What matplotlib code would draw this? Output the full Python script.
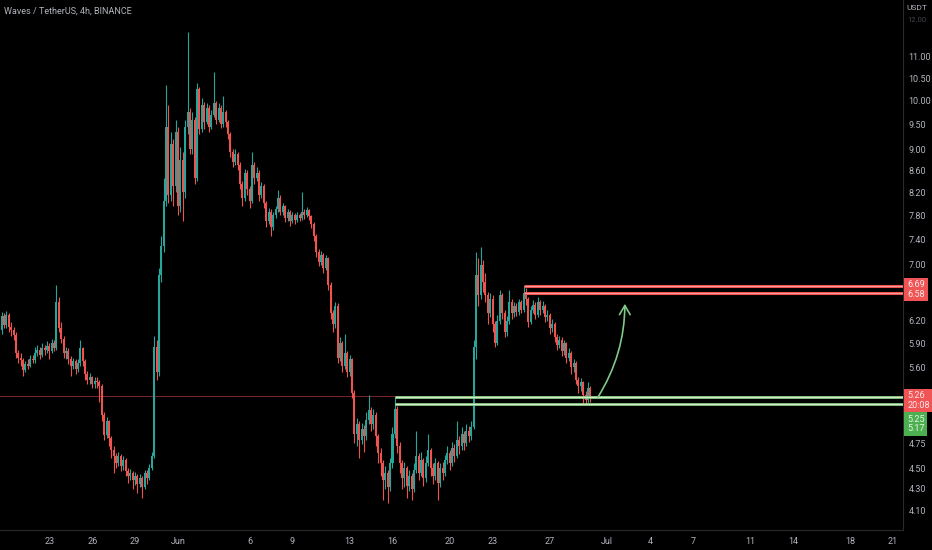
import numpy as np
import pandas as pd
import matplotlib
matplotlib.use('Agg')
import matplotlib.pyplot as plt
import matplotlib.transforms as mtransforms
from matplotlib.patches import FancyArrowPatch

plt.rcParams['font.family'] = ['Roboto', 'DejaVu Sans']

# ======================================
# DATA  (Waves / TetherUS, 4h candles)
# ======================================
first_open = 6.00

closes = [
    6.08, 6.26, 6.14, 6.27, 6.12, 6.08, 6.01, 5.78, 5.72, 5.69, 5.57, 5.64,
    5.62, 5.71, 5.69, 5.78, 5.82, 5.76, 5.84, 5.82, 5.87, 5.80, 5.90, 5.84,
    6.45, 6.10, 5.96, 5.78, 5.80, 5.70, 5.62, 5.68, 5.58, 5.66, 5.84, 5.68,
    5.52, 5.45, 5.48, 5.40, 5.44, 5.42, 5.38, 5.05, 4.84, 4.98, 4.80, 4.68,
    4.62, 4.55, 4.62, 4.52, 4.58, 4.47, 4.42, 4.45, 4.38, 4.42, 4.35, 4.40,
    4.32, 4.45, 4.40, 4.50, 4.62, 5.85, 5.55, 6.85, 7.30, 8.05, 9.45, 8.15,
    9.10, 8.30, 9.35, 7.95, 8.80, 8.20, 9.45, 9.75, 9.00, 9.60, 8.45, 10.25,
    9.40, 9.90, 9.55, 9.85, 9.45, 9.70, 9.95, 9.60, 9.85, 9.50, 9.75, 9.55,
    9.30, 8.95, 8.75, 8.90, 8.70, 8.35, 8.10, 8.55, 8.25, 8.05, 8.70, 8.45,
    8.55, 8.15, 8.30, 8.00, 7.70, 7.85, 7.60, 7.80, 7.90, 8.10, 7.85, 7.95,
    7.75, 7.85, 7.70, 7.80, 7.72, 7.80, 7.75, 7.85, 7.80, 7.88, 7.78, 7.65,
    7.45, 7.20, 7.05, 7.15, 6.95, 7.10, 6.70, 6.30, 6.15, 6.40, 5.72, 5.90,
    5.62, 5.78, 5.55, 5.70, 5.30, 4.85, 4.95, 4.78, 4.90, 4.82, 5.00, 5.10,
    4.95, 5.05, 4.82, 4.65, 4.55, 4.38, 4.45, 4.32, 4.55, 4.85, 5.12, 4.72,
    4.55, 4.40, 4.50, 4.33, 4.42, 4.30, 4.48, 4.62, 4.45, 4.58, 4.40, 4.55,
    4.68, 4.50, 4.42, 4.55, 4.36, 4.50, 4.45, 4.58, 4.65, 4.55, 4.70, 4.62,
    4.78, 4.72, 4.85, 4.75, 4.88, 4.82, 4.92, 5.85, 6.85, 6.55, 7.00, 6.75,
    6.55, 6.30, 6.50, 6.15, 5.90, 6.20, 6.55, 6.30, 6.05, 6.20, 6.45, 6.30,
    6.40, 6.32, 6.45, 6.35, 6.58, 6.50, 6.18, 6.35, 6.42, 6.28, 6.45, 6.35,
    6.40, 6.25, 6.28, 6.10, 6.15, 5.98, 5.88, 5.95, 5.80, 5.90, 5.72, 5.78,
    5.60, 5.65, 5.45, 5.38, 5.42, 5.28, 5.22, 5.35, 5.26,
]

highs = [
    6.15, 6.32, 6.30, 6.33, 6.30, 6.18, 6.12, 6.05, 5.82, 5.78, 5.72, 5.68,
    5.70, 5.75, 5.76, 5.85, 5.88, 5.85, 5.90, 5.88, 5.93, 5.90, 5.96, 5.94,
    6.70, 6.52, 6.18, 6.00, 5.86, 5.84, 5.74, 5.72, 5.71, 5.70, 5.95, 5.86,
    5.70, 5.56, 5.53, 5.50, 5.49, 5.48, 5.45, 5.40, 5.08, 5.03, 5.00, 4.83,
    4.72, 4.65, 4.66, 4.64, 4.62, 4.60, 4.50, 4.49, 4.47, 4.46, 4.44, 4.44,
    4.42, 4.48, 4.48, 4.54, 4.66, 6.00, 5.95, 6.95, 7.45, 8.45, 10.35, 9.90,
    9.35, 9.20, 9.60, 9.45, 9.05, 8.95, 9.60, 11.62, 9.85, 9.75, 9.65, 10.40,
    10.30, 10.05, 9.98, 9.95, 9.90, 9.80, 10.65, 10.00, 9.95, 9.90, 10.10, 9.80,
    9.60, 9.35, 9.00, 9.00, 8.95, 8.75, 8.40, 8.62, 8.60, 8.30, 8.95, 8.75,
    8.65, 8.60, 8.38, 8.35, 8.05, 7.92, 7.90, 7.85, 7.96, 8.24, 8.15, 8.00,
    7.98, 7.90, 7.88, 7.85, 7.84, 7.86, 7.84, 8.20, 7.90, 7.93, 7.91, 7.80,
    7.68, 7.48, 7.24, 7.22, 7.18, 7.15, 7.12, 6.74, 6.35, 6.46, 6.44, 5.98,
    5.93, 6.02, 5.80, 5.76, 5.72, 5.33, 5.02, 4.98, 4.96, 4.94, 5.08, 5.27,
    5.14, 5.12, 5.08, 4.85, 4.70, 4.58, 4.52, 4.48, 4.60, 4.92, 5.25, 5.15,
    4.76, 4.58, 4.56, 4.52, 4.48, 4.45, 4.55, 4.88, 4.65, 4.66, 4.60, 4.62,
    4.85, 4.70, 4.55, 4.60, 4.57, 4.55, 4.56, 4.63, 4.72, 4.68, 4.76, 4.74,
    4.98, 4.82, 4.92, 4.88, 4.95, 4.93, 4.98, 5.95, 7.20, 7.10, 7.28, 7.08,
    6.88, 6.60, 6.58, 6.55, 6.20, 6.28, 6.62, 6.58, 6.34, 6.26, 6.62, 6.50,
    6.46, 6.44, 6.50, 6.48, 6.69, 6.66, 6.52, 6.40, 6.48, 6.45, 6.52, 6.48,
    6.47, 6.43, 6.35, 6.30, 6.22, 6.18, 6.02, 6.00, 5.98, 5.95, 5.92, 5.84,
    5.80, 5.70, 5.68, 5.48, 5.47, 5.44, 5.32, 5.42, 5.38,
]

lows = [
    5.95, 6.02, 6.10, 6.10, 6.05, 6.00, 5.95, 5.72, 5.66, 5.62, 5.50, 5.54,
    5.58, 5.60, 5.65, 5.66, 5.74, 5.70, 5.73, 5.75, 5.78, 5.70, 5.78, 5.80,
    5.82, 6.05, 5.90, 5.72, 5.70, 5.64, 5.50, 5.58, 5.52, 5.55, 5.62, 5.62,
    5.45, 5.40, 5.40, 5.35, 5.36, 5.35, 5.20, 4.98, 4.78, 4.80, 4.72, 4.60,
    4.45, 4.50, 4.52, 4.47, 4.48, 4.42, 4.36, 4.38, 4.30, 4.34, 4.26, 4.32,
    4.22, 4.30, 4.35, 4.38, 4.48, 4.60, 5.45, 5.50, 6.75, 7.20, 7.95, 8.00,
    8.05, 7.95, 8.20, 7.80, 7.85, 7.70, 8.10, 9.30, 8.90, 8.90, 8.35, 8.40,
    9.30, 9.35, 9.40, 9.50, 9.35, 9.40, 9.65, 9.50, 9.55, 9.42, 9.45, 9.45,
    9.20, 8.85, 8.65, 8.70, 8.60, 8.25, 7.95, 8.05, 8.15, 7.92, 8.00, 8.35,
    8.40, 8.05, 8.10, 7.92, 7.60, 7.65, 7.45, 7.55, 7.75, 7.85, 7.80, 7.80,
    7.68, 7.70, 7.62, 7.66, 7.65, 7.68, 7.70, 7.72, 7.74, 7.76, 7.72, 7.58,
    7.38, 7.12, 6.98, 7.00, 6.88, 6.92, 6.62, 6.22, 6.05, 6.10, 5.66, 5.68,
    5.55, 5.58, 5.48, 5.50, 5.24, 4.75, 4.72, 4.60, 4.74, 4.66, 4.78, 4.95,
    4.88, 4.90, 4.72, 4.55, 4.42, 4.20, 4.30, 4.17, 4.28, 4.50, 4.80, 4.65,
    4.45, 4.30, 4.32, 4.22, 4.28, 4.20, 4.27, 4.45, 4.38, 4.42, 4.33, 4.37,
    4.52, 4.42, 4.35, 4.38, 4.20, 4.32, 4.38, 4.42, 4.54, 4.48, 4.52, 4.56,
    4.60, 4.64, 4.68, 4.68, 4.72, 4.76, 4.78, 4.90, 5.70, 6.40, 6.50, 6.60,
    6.45, 6.15, 6.25, 6.05, 5.85, 5.88, 6.15, 6.22, 5.98, 6.00, 6.15, 6.22,
    6.25, 6.26, 6.28, 6.30, 6.32, 6.42, 6.12, 6.15, 6.30, 6.22, 6.25, 6.28,
    6.30, 6.18, 6.20, 6.02, 6.05, 5.92, 5.82, 5.84, 5.74, 5.76, 5.66, 5.68,
    5.52, 5.55, 5.40, 5.30, 5.32, 5.17, 5.17, 5.18, 5.20,
]

first_candle = '2022-05-19 12:00'
ref_day = pd.Timestamp('2022-06-01')

# support / resistance drawn on the chart
resistance = [6.69, 6.58]
support = [5.25, 5.17]
res_from_candle = 220
sup_from_candle = 166
last_price = 5.26
countdown = '20:08'

date_ticks = ['2022-05-23', '2022-05-26', '2022-05-29', '2022-06-01', '2022-06-06',
              '2022-06-09', '2022-06-13', '2022-06-16', '2022-06-20', '2022-06-23',
              '2022-06-27', '2022-07-01', '2022-07-04', '2022-07-07', '2022-07-11',
              '2022-07-14', '2022-07-18', '2022-07-21']
date_labels = ['23', '26', '29', 'Jun', '6', '9', '13', '16', '20', '23',
               '27', 'Jul', '4', '7', '11', '14', '18', '21']
price_ticks = [11.00, 10.50, 10.00, 9.50, 9.00, 8.60, 8.20, 7.80, 7.40, 7.00,
               6.20, 5.90, 5.60, 4.75, 4.50, 4.30, 4.10]

# ======================================
# PREP
# ======================================
BG = '#000000'
UP = '#26a69a'
DOWN = '#ef5350'
TXT = '#b2b5be'
AXLINE = '#2a2a2e'

c = np.array(closes)
o = np.concatenate([[first_open], c[:-1]])
h = np.maximum(np.array(highs), np.maximum(o, c))
l = np.minimum(np.array(lows), np.minimum(o, c))

times = pd.date_range(first_candle, periods=len(c), freq='4h')
x = ((times - ref_day) / pd.Timedelta(days=1)).to_numpy()

def to_day(s):
    return (pd.Timestamp(s) - ref_day) / pd.Timedelta(days=1)

up = c >= o
colors = np.where(up, UP, DOWN)

# ======================================
# FIGURE
# ======================================
W, H = 932, 550
fig = plt.figure(figsize=(W / 100, H / 100), dpi=100, facecolor=BG)
ax = fig.add_axes([0, 20 / H, 903 / W, 530 / H])
ax.set_facecolor(BG)

ax.set_yscale('log')
ax.set_ylim(3.933, 12.449)
ax.set_xlim(-12.448, 50.70)

# wicks + bodies
ax.vlines(x, l, h, colors=colors, linewidth=0.8, zorder=3)
body_lo = np.minimum(o, c)
body_hi = np.maximum(o, c)
body_h = np.maximum(body_hi - body_lo, body_lo * 0.002)
ax.bar(x, body_h, bottom=body_lo, width=0.14, color=colors, linewidth=0, zorder=4)

# current price line
ax.axhline(last_price, color='#7d2526', linewidth=0.7, zorder=2)

# resistance (red) and support (green) lines
x_end = ax.get_xlim()[1]
for p in resistance:
    ax.hlines(p, x[res_from_candle], x_end, color='#ef5350', linewidth=2.2, zorder=5)
    ax.hlines(p, x[res_from_candle], x_end, color='#f7a8a8', linewidth=0.6, zorder=6)
for p in support:
    ax.hlines(p, x[sup_from_candle], x_end, color='#8fd08f', linewidth=2.0, zorder=5)
    ax.hlines(p, x[sup_from_candle], x_end, color='#dcf2c8', linewidth=0.6, zorder=6)

# expected bounce arrow
arrow = FancyArrowPatch((29.25, 5.22), (31.25, 6.47),
                        connectionstyle='arc3,rad=0.15',
                        arrowstyle='->,head_length=0.55,head_width=0.32',
                        mutation_scale=12, color='#7fc98b', linewidth=1.2, zorder=7)
ax.add_patch(arrow)

# axes styling
for side in ['top', 'left']:
    ax.spines[side].set_visible(False)
for side in ['right', 'bottom']:
    ax.spines[side].set_color(AXLINE)
    ax.spines[side].set_linewidth(0.8)

ax.set_xticks([to_day(d) for d in date_ticks])
ax.set_xticklabels(date_labels)
ax.yaxis.tick_right()
ax.set_yticks(price_ticks)
ax.set_yticklabels(['%.2f' % p for p in price_ticks])
ax.yaxis.set_minor_locator(matplotlib.ticker.NullLocator())
ax.tick_params(axis='both', length=0, colors=TXT, labelsize=6.5)
ax.tick_params(axis='x', pad=5)
ax.tick_params(axis='y', pad=4)

# price labels on the right scale
ytrans = mtransforms.blended_transform_factory(ax.transAxes, ax.transData)
lab = dict(ha='left', va='center', fontsize=6.5, linespacing=1.05, zorder=10,
           annotation_clip=False, textcoords='offset points', xycoords=ytrans)
res_mid = np.sqrt(resistance[0] * resistance[1])
ax.annotate('%.2f\n%.2f' % (resistance[0], resistance[1]), xy=(1.0, res_mid),
            xytext=(3, 0), color='#ffe8e8',
            bbox=dict(boxstyle='square,pad=0.3', fc='#f05454', ec='none'), **lab)
ax.annotate('%.2f\n%s' % (last_price, countdown), xy=(1.0, last_price),
            xytext=(3, -3), color='#ffe8e8',
            bbox=dict(boxstyle='square,pad=0.3', fc='#f05454', ec='none'), **lab)
ax.annotate('%.2f\n%.2f' % (support[0], support[1]), xy=(1.0, last_price),
            xytext=(3, -20), color='#e6f6e6',
            bbox=dict(boxstyle='square,pad=0.3', fc='#4caf50', ec='none'), **lab)

# header texts
fig.text(4 / W, 1 - 11 / H, 'Waves / TetherUS, 4h, BINANCE', ha='left', va='center',
         fontsize=6.5, color=TXT)
fig.text(906 / W, 1 - 8 / H, 'USDT', ha='left', va='center', fontsize=6, color=TXT)
ax.annotate('12.00', xy=(1.0, 12.0), xycoords=ytrans, xytext=(3, -2.5),
            textcoords='offset points', ha='left', va='center', fontsize=5.5,
            color='#44464c', annotation_clip=False)

fig.savefig('out.png', dpi=100, facecolor=BG)
